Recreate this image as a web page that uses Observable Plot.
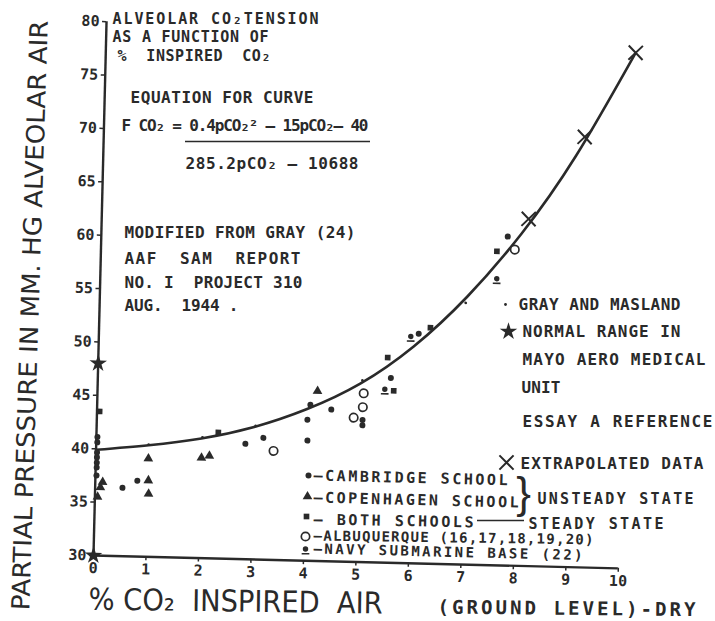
<!DOCTYPE html>
<html><head><meta charset="utf-8">
<script src="https://cdn.jsdelivr.net/npm/d3@7"></script>
<script src="https://cdn.jsdelivr.net/npm/@observablehq/plot@0.6"></script>
<style>
html,body{margin:0;padding:0;background:#fff;}
#chart{width:715px;height:621px;overflow:hidden;}
</style></head><body><div id="chart"></div>
<script>
// ---------------- data ----------------
const xTicks = [0,1,2,3,4,5,6,7,8,9,10];
const yTicks = [30,35,40,45,50,55,60,65,70,75,80];

const curveX = [0, 1, 2, 3, 4, 5, 6, 7, 8, 9, 10.09];
const curveY = [39.9, 40.45, 41.2, 42.4, 44.2, 46.7, 50.3, 55.1, 61.1, 68.5, 78.3];

const cambridgeX = [0.02,0.02,0.02,0.02,0.02,0.02,0.02,0.52,0.80,2.84,3.18,4.02,4.01,4.06,4.46,5.06,5.06,5.58,6.09,7.74];
const cambridgeY = [41.1,40.6,39.65,39.2,38.7,38.25,37.5,36.4,37.1,40.8,41.4,41.25,43.2,44.6,44.2,43.3,42.8,47.3,51.5,60.8];

const copenhagenX = [0.14,0.10,0.05,1.0,1.01,1.02,2.01,2.16,4.19];
const copenhagenY = [36.9,36.4,35.5,39.2,37.15,35.9,39.4,39.6,45.9];

const bothX = [0.05,2.32,5.51,5.64,6.31,7.54];
const bothY = [43.5,41.8,49.2,46.1,52.1,59.4];

const albuquerqueX = [3.38,5.07,5.06,4.89,7.88];
const albuquerqueY = [40.2,45.8,44.5,43.5,59.6];

const navyX = [5.47,5.94,7.55];
const navyY = [46.1,51.1,56.7];

const grayX = [1.0,2.02,3.03,5.04,6.97];
const grayY = [40.5,41.3,42.5,47.0,54.5];

const mayoX = [0,0];
const mayoY = [48.0,30];

const extrapX = [8.13,9.16,10.09];
const extrapY = [62.5,70.3,78.3];

// ---------------- layout ----------------
const W = 715, H = 621, ML = 93, MR = 97, MT = 21, MB = 66;
const TILT = 1.4; // the scanned drawing is slightly rotated
const INK = "#2a2a2a";
const MONO = "'DejaVu Sans Mono','Liberation Mono',monospace";
const NARROW = "'Liberation Sans Narrow','DejaVu Sans Condensed','Liberation Sans',sans-serif";
const px = X => (X - ML) * 10 / (W - ML - MR);
const py = Y => 30 + (H - MB - Y) * 50 / (H - MT - MB);

const rows = (xs, ys) => xs.map((x, i) => ({x, y: ys[i]}));

const navySymbol = {
  draw(ctx, size) {
    const r = Math.sqrt(size / Math.PI);
    ctx.moveTo(r * 0.85, -r * 0.45);
    ctx.arc(0, -r * 0.45, r * 0.85, 0, 2 * Math.PI);
    ctx.rect(-r * 1.2, r * 0.75, r * 2.4, r * 0.5);
  }
};

const styles = {
  cambridge: {symbol: "circle", r: 3, fill: INK},
  copenhagen: {symbol: "triangle", r: 3.6, fill: INK},
  both: {symbol: "square", r: 3.2, fill: INK},
  albuquerque: {symbol: "circle", r: 4.2, fill: "white", stroke: INK, strokeWidth: 1.7},
  navy: {symbol: navySymbol, r: 3.2, fill: INK},
  gray: {symbol: "circle", r: 1.4, fill: INK},
  mayo: {symbol: "star", r: 5.5, fill: INK},
  extrap: {symbol: "times", r: 6.5, stroke: INK, strokeWidth: 2}
};

const legendMarks = [
  ["gray", 505, 304], ["mayo", 508, 331], ["extrap", 506, 462],
  ["cambridge", 308, 475], ["copenhagen", 307, 496], ["both", 306, 516],
  ["albuquerque", 305, 536], ["navy", 305, 550]
];

const annots = [
  {t: "ALVEOLAR CO₂TENSION", X: 112, Y: 23, w: 206, fs: 15},
  {t: "AS A FUNCTION OF", X: 112, Y: 41, w: 156, fs: 15},
  {t: "%  INSPIRED  CO₂", X: 117, Y: 60, w: 153, fs: 15},
  {t: "EQUATION FOR CURVE", X: 130, Y: 102, w: 183},
  {t: "F CO₂ = 0.4pCO₂² — 15pCO₂— 40", X: 121, Y: 130, w: 247},
  {t: "285.2pCO₂ — 10688", X: 185, Y: 168, w: 173},
  {t: "MODIFIED FROM GRAY (24)", X: 124, Y: 237, w: 231},
  {t: "AAF  SAM  REPORT", X: 124, Y: 263, w: 176},
  {t: "NO. I  PROJECT 310", X: 124, Y: 287, w: 178},
  {t: "AUG.  1944 .", X: 124, Y: 310, w: 114},
  {t: "GRAY AND MASLAND", X: 518, Y: 309, w: 162},
  {t: "NORMAL RANGE IN", X: 522, Y: 336, w: 158},
  {t: "MAYO AERO MEDICAL", X: 522, Y: 364, w: 183},
  {t: "UNIT", X: 521, Y: 392, w: 39},
  {t: "ESSAY A REFERENCE", X: 522, Y: 426, w: 190},
  {t: "EXTRAPOLATED DATA", X: 520, Y: 468, w: 183},
  {t: "—CAMBRIDGE SCHOOL", X: 313, Y: 480, w: 194, rot: 1.4, fs: 15},
  {t: "—COPENHAGEN SCHOOL", X: 313, Y: 502, w: 205, rot: 1.4, fs: 15},
  {t: "— BOTH SCHOOLS", X: 313, Y: 524, w: 160, rot: 1, fs: 15},
  {t: "STEADY STATE", X: 528, Y: 528, w: 135, fs: 15},
  {t: "UNSTEADY STATE", X: 537, Y: 503, w: 156, fs: 15},
  {t: "—ALBUQUERQUE (16,17,18,19,20)", X: 313, Y: 540, w: 280, rot: 0.8, fs: 14},
  {t: "—NAVY SUBMARINE BASE (22)", X: 313, Y: 553, w: 269, rot: 1.4, fs: 14},
  {t: "% CO₂  INSPIRED  AIR", X: 88, Y: 609, w: 294, fs: 30, font: NARROW, weight: "normal", adj: "spacingAndGlyphs", rot: 0.8},
  {t: "(GROUND LEVEL)-DRY", X: 437, Y: 613, w: 258, fs: 19, rot: 0.6},
  {t: "PARTIAL PRESSURE IN MM. HG ALVEOLAR AIR", X: 30, Y: 315, w: 590, fs: 25, font: NARROW, weight: "normal", rot: -88.2, anchor: "middle", line: "middle", adj: "spacingAndGlyphs"},
  {t: "}", X: 523, Y: 493, fs: 44, font: "'Liberation Sans',sans-serif", weight: "normal", anchor: "middle", line: "middle"}
];
const rules = [
  {X1: 185, X2: 370, Y: 141, sw: 1.6},
  {X1: 477, X2: 524, Y: 520, sw: 1.5}
];

// ---------------- marks ----------------
const marks = [
  Plot.ruleX([0], {y1: 30, y2: 80, stroke: INK, strokeWidth: 2.4}),
  Plot.ruleY([30], {x1: 0, x2: 10, stroke: INK, strokeWidth: 2.4}),
  Plot.axisX({ticks: xTicks, tickSize: 4, tickPadding: 3, fontSize: 15, fontFamily: MONO, fontWeight: "bold", label: null, stroke: INK, strokeWidth: 1.5, fill: INK, tickFormat: d => String(d)}),
  Plot.axisY({ticks: yTicks, tickSize: 4, tickPadding: 3, fontSize: 15, fontFamily: MONO, fontWeight: "bold", label: null, stroke: INK, strokeWidth: 1.5, fill: INK, tickFormat: d => String(d)}),
  Plot.line(rows(curveX, curveY), {x: "x", y: "y", curve: "natural", stroke: INK, strokeWidth: 2.6}),
  Plot.dot(rows(grayX, grayY), {x: "x", y: "y", ...styles.gray}),
  Plot.dot(rows(cambridgeX, cambridgeY), {x: "x", y: "y", ...styles.cambridge}),
  Plot.dot(rows(copenhagenX, copenhagenY), {x: "x", y: "y", ...styles.copenhagen}),
  Plot.dot(rows(bothX, bothY), {x: "x", y: "y", ...styles.both}),
  Plot.dot(rows(albuquerqueX, albuquerqueY), {x: "x", y: "y", ...styles.albuquerque}),
  Plot.dot(rows(navyX, navyY), {x: "x", y: "y", ...styles.navy}),
  Plot.dot(rows(mayoX, mayoY), {x: "x", y: "y", ...styles.mayo}),
  Plot.dot(rows(extrapX, extrapY), {x: "x", y: "y", ...styles.extrap})
];

for (const [k, X, Y] of legendMarks) {
  marks.push(Plot.dot([{x: px(X), y: py(Y)}], {x: "x", y: "y", ...styles[k], ariaDescription: "annot-mark"}));
}
for (const r of rules) {
  marks.push(Plot.ruleY([py(r.Y)], {x1: px(r.X1), x2: px(r.X2), stroke: INK, strokeWidth: r.sw, ariaDescription: "annot-rule"}));
}
for (const a of annots) {
  marks.push(Plot.text([a], {
    x: () => px(a.X), y: () => py(a.Y), text: d => d.t,
    textAnchor: a.anchor || "start", lineAnchor: a.line || "bottom",
    fontSize: a.fs || 16, fontFamily: a.font || MONO, fontWeight: a.weight || "bold",
    rotate: a.rot || 0, fill: INK, ariaDescription: "annot-text"
  }));
}

const svg = Plot.plot({
  width: W, height: H,
  marginLeft: ML, marginRight: MR, marginTop: MT, marginBottom: MB,
  x: {domain: [0, 10]},
  y: {domain: [30, 80]},
  style: {background: "white", color: INK},
  marks
});

// rotate the drawing (axes + data) like the scanned original; annotations stay level
const NS = "http://www.w3.org/2000/svg";
const g = document.createElementNS(NS, "g");
g.setAttribute("transform", `rotate(${TILT} ${ML} ${H - MB})`);
for (const k of Array.from(svg.childNodes)) {
  if (k.nodeName === "style") continue;
  const desc = k.getAttribute ? (k.getAttribute("aria-description") || "") : "";
  if (desc.startsWith("annot")) continue;
  g.appendChild(k);
}
const styleEl = svg.querySelector("style");
svg.insertBefore(g, styleEl ? styleEl.nextSibling : svg.firstChild);

svg.querySelectorAll('g[aria-description="annot-text"]').forEach((grp, i) => {
  const a = annots[i], t = grp.querySelector("text");
  if (a && a.w && t) {
    t.setAttribute("textLength", a.w);
    t.setAttribute("lengthAdjust", a.adj || "spacing");
  }
});

document.getElementById("chart").appendChild(svg);
</script></body></html>
